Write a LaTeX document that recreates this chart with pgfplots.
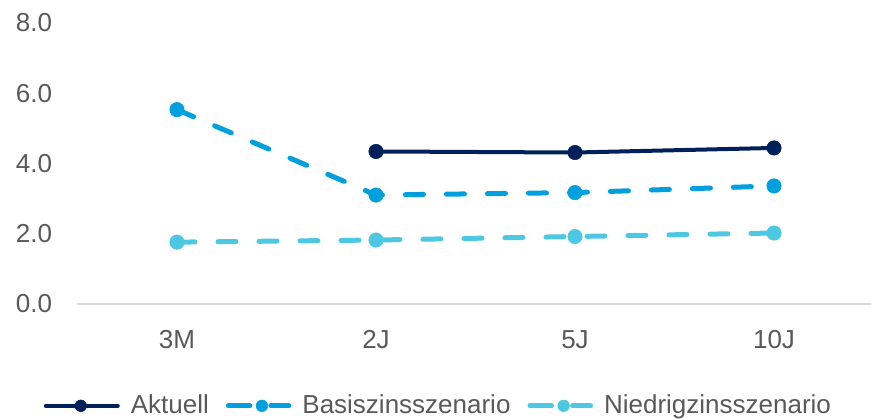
\documentclass[border=0pt]{standalone}
\usepackage{fontspec}
\setmainfont{Liberation Sans}
\usepackage{pgfplots}
\pgfplotsset{compat=1.18}
\definecolor{aktuell}{RGB}{0,32,91}
\definecolor{basis}{RGB}{0,160,222}
\definecolor{niedrig}{RGB}{76,200,227}
\definecolor{ticktext}{RGB}{89,89,89}
\definecolor{basecol}{RGB}{217,217,217}

\pgfplotsset{
  solidleg/.style={legend image code/.code={
    \draw[##1] (0pt,0pt) -- (36pt,0pt);
    \draw[##1, mark size=2.9pt] plot coordinates {(17.5pt,0pt)};}},
  dashleg/.style={legend image code/.code={
    \draw[##1,solid] (1.2pt,0pt) -- (12pt,0pt);
    \draw[##1,solid] (22.5pt,0pt) -- (31.5pt,0pt);
    \draw[##1, mark size=2.9pt] plot coordinates {(18pt,0pt)};}},
}

\begin{document}
\begin{tikzpicture}
\path[use as bounding box] (-38.75pt,-57pt) rectangle (396.75pt,152pt);
\begin{axis}[
  at={(0pt,0pt)}, anchor=south west,
  scale only axis, width=398pt, height=140.6pt,
  xmin=-0.5, xmax=3.5, ymin=0, ymax=8,
  xtick={0,1,2,3}, xticklabels={3M,2J,5J,10J},
  ytick={0,2,4,6,8},
  axis line style={draw=none}, tick style={draw=none},
  major tick length=0pt,
  clip=false,
  font=\fontsize{13}{15}\selectfont,
  ticklabel style={text=ticktext, font=\fontsize{13}{15}\selectfont},
  /pgf/number format/assume math mode=true,
  yticklabel={\pgfmathprintnumber[fixed, fixed zerofill, precision=1]{\tick}},
  yticklabel style={anchor=east, inner sep=0pt, xshift=-12.5pt},
  xticklabel style={anchor=north, inner sep=0pt, yshift=-13pt},
  legend columns=-1,
  legend style={draw=none, fill=none, at={(0.454,-0.362)}, anchor=center,
    font=\fontsize{13}{15}\selectfont, text=ticktext,
    nodes={inner sep=1.5pt},
    /tikz/every odd column/.append style={column sep=4pt},
    /tikz/every even column/.append style={column sep=7pt}},
  every axis plot/.append style={line cap=round, mark=*, mark size=3.6pt},
]
\addplot[basecol, line width=1pt, mark=none, forget plot]
  coordinates {(-0.5,0) (3.5,0)};

\addplot[aktuell, line width=2pt, mark options={fill=aktuell, solid, line width=0.3pt}, solidleg]
  coordinates {(1,4.34) (2,4.31) (3,4.44)};
\addlegendentry{Aktuell}

\addplot[basis, line width=2.5pt, dash pattern=on 9pt off 11.5pt,
  mark options={fill=basis, solid, line width=0.3pt}, dashleg]
  coordinates {(0,5.53) (1,3.10) (2,3.17) (3,3.36)};
\addlegendentry{Basiszinsszenario}

\addplot[niedrig, line width=2.5pt, dash pattern=on 9pt off 11.5pt,
  mark options={fill=niedrig, solid, line width=0.3pt}, dashleg]
  coordinates {(0,1.76) (1,1.82) (2,1.92) (3,2.02)};
\addlegendentry{Niedrigzinsszenario}
\end{axis}
\end{tikzpicture}
\end{document}
